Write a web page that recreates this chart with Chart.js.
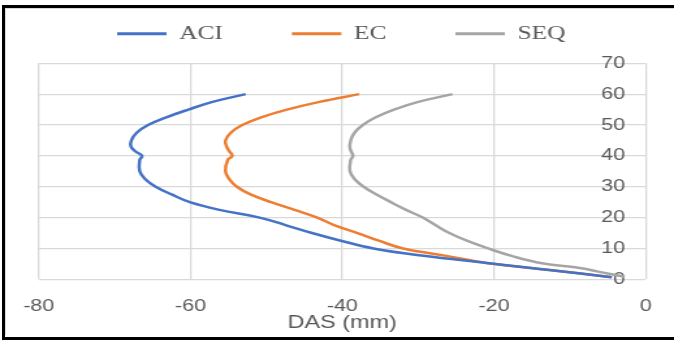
<!DOCTYPE html>
<html><head><meta charset="utf-8">
<script src="https://cdn.jsdelivr.net/npm/chart.js@4"></script>
<style>
html,body{margin:0;padding:0;background:#fff;overflow:hidden;width:674px;height:341px;}
#frame{position:absolute;left:2px;top:5px;width:700px;height:329px;border-top:3px solid #000;border-left:3px solid #000;border-bottom:3px solid #000;}
#inner{position:absolute;left:5px;top:8px;width:700px;height:326px;border-top:1px solid #d9d9d9;border-left:1px solid #d9d9d9;}
#wrap{position:absolute;left:0;top:0;width:518px;height:341px;transform:scaleX(1.30116);transform-origin:0 0;}
</style>
</head><body>
<div id="frame"></div><div id="inner"></div>
<div id="wrap"><canvas id="c"></canvas></div>
<script>
const seriesNames = ['ACI', 'EC', 'SEQ'];
const aciDepth = [60, 57.5, 55, 52.5, 50, 47.5, 45, 43, 41.5, 40, 38.7, 35, 32.5, 30, 27.5, 25, 22.5, 20, 17.5, 15, 12.5, 10, 7.6, 5.3, 3, 0.7];
const aciDAS   = [-52.75, -57.1, -60.3, -63.2, -65.6, -67.1, -67.8, -67.85, -67.3, -66.4, -66.7, -66.7, -66.0, -64.6, -62.5, -60.1, -56.2, -50.9, -47.4, -44.0, -40.2, -35.9, -29.3, -21, -12.8, -4.5];
const ecDepth  = [60, 57.5, 55, 52.5, 50, 47.5, 45, 43, 41.5, 40, 38.7, 35, 32.5, 30, 27.5, 25, 22.5, 20, 17.5, 15, 12.5, 10, 7.6, 5.3, 3, 0.7];
const ecDAS    = [-37.8, -43.0, -47.3, -50.7, -53.2, -54.7, -55.4, -55.25, -54.9, -54.5, -55.1, -55.4, -54.9, -53.9, -52.1, -49.4, -46.3, -43.3, -41.0, -38.0, -35.2, -32.0, -26.3, -21, -12.6, -4.5];
const seqDepth = [60, 57.5, 55, 52.5, 50, 47.5, 45, 42.5, 40, 38.7, 35, 32.5, 30, 27.5, 25, 22.5, 20, 17.5, 15, 12.5, 10, 7.5, 5.2, 3.6, 2.5, 0.8];
const seqDAS   = [-25.5, -30.0, -33.2, -35.6, -37.3, -38.4, -38.9, -39.0, -38.6, -38.9, -39.0, -38.4, -37.2, -35.5, -33.6, -31.6, -29.4, -27.7, -25.9, -23.6, -20.8, -17.6, -13.7, -8.5, -6.3, -2.8];
const xTicks = [-80, -60, -40, -20, 0];
const yTicks = [0, 10, 20, 30, 40, 50, 60, 70];
const colors = ['#4472C4', '#ED7D31', '#A5A5A5'];

function pts(xs, ys){ return xs.map((v,i)=>({x:v, y:ys[i]})); }

const legendShift = {
  id:'legendShift',
  afterLayout(chart){
    const l = chart.legend;
    l.left += 7.2; l.right += 7.2;
    l.top = -29; l.bottom = 70;
  }
};

const txt = '#595959';
const tickFont = {family:'"Liberation Sans", Arial, sans-serif', size:16.5};

new Chart(document.getElementById('c'), {
  type:'scatter',
  data:{
    datasets:[
      {label:seriesNames[0], data:pts(aciDAS, aciDepth)},
      {label:seriesNames[1], data:pts(ecDAS, ecDepth)},
      {label:seriesNames[2], data:pts(seqDAS, seqDepth)}
    ].map((d,i)=>Object.assign(d,{showLine:true, borderColor:colors[i], backgroundColor:colors[i], borderWidth:2.5, pointRadius:0, tension:0.4}))
  },
  options:{
    responsive:true, maintainAspectRatio:false, animation:false,
    layout:{padding:{left:29.8, right:16.5, top:0, bottom:7.3}},
    plugins:{
      legend:{
        position:'top', align:'start', maxHeight:63.3,
        labels:{
          boxWidth:38, boxHeight:3, padding:53, color:txt,
          font:{family:'"Liberation Serif", "Times New Roman", serif', size:19.5},
          generateLabels(chart){
            const items = Chart.defaults.plugins.legend.labels.generateLabels(chart);
            items.forEach(it=>{ it.lineWidth = 0; });
            return items;
          }
        }
      },
      tooltip:{enabled:false}
    },
    scales:{
      x:{
        type:'linear', position:'bottom', min:xTicks[0], max:xTicks[xTicks.length-1],
        afterBuildTicks(s){ s.ticks = xTicks.map(v=>({value:v})); },
        ticks:{color:txt, font:tickFont, padding:17, maxRotation:0},
        grid:{color:'#d9d9d9', lineWidth:1.3, drawTicks:false},
        border:{display:false},
        title:{display:true, text:'DAS (mm)', color:txt, font:{family:'"Liberation Sans", Arial, sans-serif', size:18}, padding:{top:-4, bottom:0}},
        afterFit(s){ s.height -= 17; }
      },
      y:{
        type:'linear', position:'right', min:yTicks[0], max:yTicks[yTicks.length-1],
        afterBuildTicks(s){ s.ticks = yTicks.map(v=>({value:v})); },
        ticks:{color:txt, font:tickFont, mirror:true, padding:-16, crossAlign:'near'},
        grid:{color:'#d9d9d9', lineWidth:1.3, drawTicks:false},
        border:{display:false},
        afterFit(s){ s.width = 0; }
      }
    }
  },
  plugins:[legendShift]
});
</script>
</body></html>
